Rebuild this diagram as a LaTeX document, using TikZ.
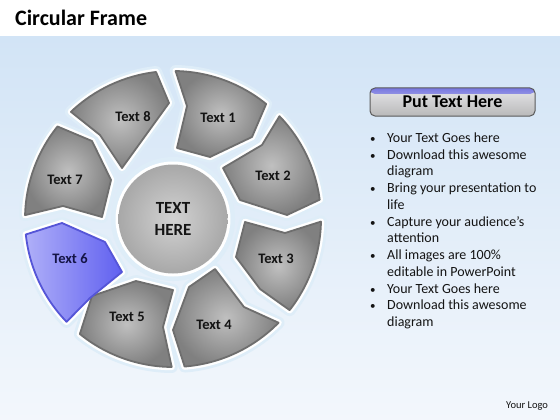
\documentclass[tikz,border=0pt]{standalone}
\usepackage{fontspec}
\setmainfont{Carlito}
\usetikzlibrary{calc}
\pgfdeclarelayer{bgL}
\pgfdeclarelayer{haloL}
\pgfdeclarelayer{whiteL}
\pgfsetlayers{bgL,haloL,whiteL,main}
\definecolor{halo}{RGB}{222,237,248}
\definecolor{segdark}{RGB}{110,110,110}
\definecolor{seglight}{RGB}{192,192,192}
\definecolor{segouter}{RGB}{128,128,128}
\definecolor{bluedark}{RGB}{85,85,215}
\definecolor{bluelight}{RGB}{175,175,248}
\definecolor{bluemid}{RGB}{96,96,240}
\definecolor{labeltext}{RGB}{20,20,20}
\definecolor{bluelabel}{RGB}{20,20,70}
\definecolor{bgtop}{RGB}{210,228,246}
\definecolor{bgbot}{RGB}{243,247,252}
\definecolor{btntop}{RGB}{230,230,234}
\definecolor{btnbot}{RGB}{185,185,185}
\definecolor{btnblue}{RGB}{120,120,225}
\definecolor{btnborder}{RGB}{90,90,90}
\definecolor{circlight}{RGB}{210,210,210}
\definecolor{circdark}{RGB}{168,168,168}
\newcommand\drawsegment[2]{%
  \begin{pgfonlayer}{haloL}\draw[seghalo] #2;\end{pgfonlayer}%
  \begin{pgfonlayer}{whiteL}\draw[segwhite] #2;\end{pgfonlayer}%
  \path[#1] #2;%
}
\tikzset{
  seghalo/.style={draw=halo, line width=12pt, line join=round},
  segwhite/.style={draw=white, line width=6.5pt, line join=round},
  seggray/.style={draw=segdark, line width=1.8pt, line join=round, inner color=seglight, outer color=segouter},
  segblue/.style={draw=bluedark, line width=1.8pt, line join=round, left color=bluelight, right color=bluemid},
  seglabel/.style={font=\fontsize{14.5}{16}\selectfont\bfseries, text=labeltext, inner sep=1pt},
  bullettext/.style={anchor=base west, font=\fontsize{14}{16}\selectfont, text=labeltext, inner sep=0pt},
  bulletdot/.style={anchor=base west, font=\fontsize{11}{13}\selectfont, text=labeltext, inner sep=0pt},
  btn/.style={minimum width=165pt, minimum height=28pt, rounded corners=5pt, draw=btnborder, line width=1pt,
    top color=btntop, bottom color=btnbot, font=\fontsize{18}{20}\selectfont\bfseries, text=black, inner sep=0pt,
    path picture={\shade[top color=btnblue, bottom color=btntop] (path picture bounding box.north west) rectangle ([yshift=-6pt]path picture bounding box.north east);}}
}
\begin{document}
\begin{tikzpicture}[x=1pt,y=-1pt]
\useasboundingbox (0,0) rectangle (560,420);
\begin{pgfonlayer}{bgL}
  \fill[white] (0,0) rectangle (560,420);
  \shade[top color=bgtop, bottom color=bgbot] (0,37) rectangle (560,420);
\end{pgfonlayer}
\coordinate (C) at (173,219);
% segments
\drawsegment{seggray}{($(C)+(-89:148)$) arc[start angle=-89,end angle=-51,radius=148] -- (252,137) -- (210,157) -- (177,148) -- (187,106) -- cycle}
\drawsegment{seggray}{($(C)+(-44:148)$) arc[start angle=-44,end angle=-7.5,radius=148] -- (287,215) -- (240,200) -- (223,168) -- (262,145) -- cycle}
\drawsegment{seggray}{($(C)+(1:148)$) arc[start angle=1,end angle=38,radius=148] -- (260,289) -- (236,257) -- (245,222) -- (285,233) -- cycle}
\drawsegment{seggray}{($(C)+(44.5:148)$) arc[start angle=44.5,end angle=85.5,radius=148] -- (173,330) -- (189,287) -- (215,269) -- (244,307) -- cycle}
\drawsegment{seggray}{($(C)+(90.5:148)$) arc[start angle=90.5,end angle=129,radius=148] -- (92,296) -- (136,281) -- (173,290) -- (163,327) -- cycle}
\drawsegment{segblue}{($(C)+(136:148)$) arc[start angle=136,end angle=174,radius=148] -- (62,223) -- (105,242) -- (122,272) -- (90,298) -- cycle}
\drawsegment{seggray}{($(C)+(181.5:148)$) arc[start angle=181.5,end angle=218.7,radius=148] -- (92,141) -- (111,180) -- (102,217) -- (63,206) -- cycle}
\drawsegment{seggray}{($(C)+(226.4:148)$) arc[start angle=226.4,end angle=263.4,radius=148] -- (169,103) -- (122,168) -- (100,135) -- cycle}
% center circle
\begin{pgfonlayer}{haloL}\fill[halo] (C) circle[radius=62];\end{pgfonlayer}
\begin{pgfonlayer}{whiteL}\fill[white] (C) circle[radius=57.5];\end{pgfonlayer}
\shade[inner color=circlight, outer color=circdark] (C) circle[radius=54.5];
\node[font=\fontsize{17}{22}\selectfont\bfseries, align=center, text=labeltext] (centertext) at (173,219) {TEXT\\HERE};
% labels
\node[seglabel] (t1) at (218,118) {Text 1};
\node[seglabel] (t2) at (273,176) {Text 2};
\node[seglabel] (t3) at (276,259) {Text 3};
\node[seglabel] (t4) at (214,325) {Text 4};
\node[seglabel] (t5) at (127,317) {Text 5};
\node[seglabel, text=bluelabel] (t6) at (70,259) {Text 6};
\node[seglabel] (t7) at (65,180) {Text 7};
\node[seglabel] (t8) at (133,117) {Text 8};
% title
\node[anchor=base west, font=\fontsize{22}{26}\selectfont\bfseries, inner sep=0pt] (title) at (15,26) {Circular Frame};
% button
\node[btn] (put) at (452.5,102) {Put Text Here};
% bullets
\foreach \i/\t/\b in {0/Your Text Goes here/1, 1/Download this awesome/1, 2/diagram/0, 3/Bring your presentation to/1, 4/life/0, 5/Capture your audience’s/1, 6/attention/0, 7/All images are 100\%/1, 8/editable in PowerPoint/0, 9/Your Text Goes here/1, 10/Download this awesome/1, 11/diagram/0}{
  \node[bullettext] (line\i) at (387,142.3+\i*16.75) {\t};
  \ifnum\b=1 \node[bulletdot] (dot\i) at (370,142.3+\i*16.75) {•};\fi
}
\node[anchor=base west, font=\fontsize{10.5}{12}\selectfont, text=labeltext, inner sep=0pt] (logo) at (506,408.5) {Your Logo};
\end{tikzpicture}
\end{document}
